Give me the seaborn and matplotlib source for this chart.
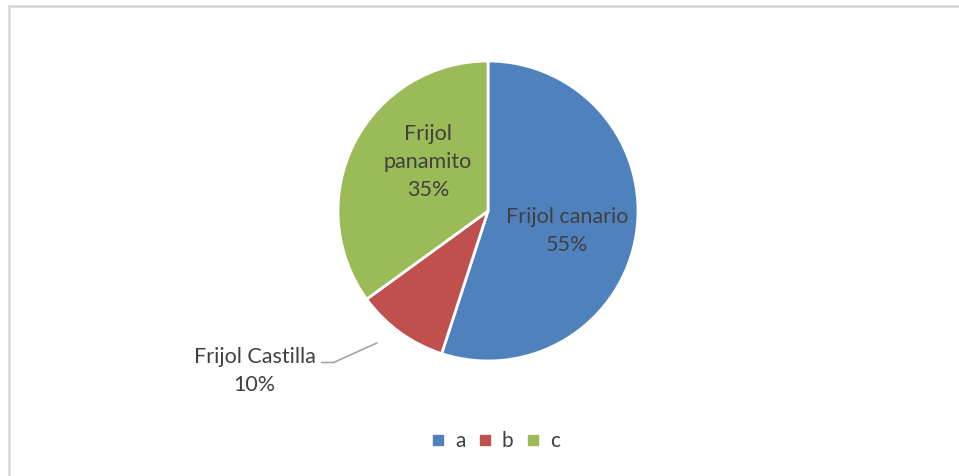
import matplotlib
matplotlib.use("Agg")
import matplotlib.pyplot as plt
import seaborn as sns
from matplotlib.patches import Rectangle
from matplotlib.lines import Line2D

# Bean varieties and their shares (%)
categories = ["Frijol canario", "Frijol Castilla", "Frijol panamito"]
shares = [55, 10, 35]
legend_labels = ["a", "b", "c"]
colors = ["#4F81BD", "#C0504D", "#9BBB59"]

sns.set_theme(style="white")
plt.rcParams["font.family"] = ["Lato", "DejaVu Sans"]
text_color = "#404040"
label_size = 15.5
spacing = 1.5

W, H = 959, 476
fig = plt.figure(figsize=(W / 100, H / 100), dpi=100)

# Light grey chart-area frame (runs off the right and bottom edges)
fig.patches.append(Rectangle((8.5 / W, -0.1), 1.2, 1 - 5.5 / H + 0.1,
                             transform=fig.transFigure, fill=False,
                             edgecolor="#D9D9D9", linewidth=2))

cx, cy, r = 488, 211, 150
ax = fig.add_axes([(cx - r) / W, (H - cy - r) / H, 2 * r / W, 2 * r / H])
wedges, _ = ax.pie(shares, colors=colors, startangle=90, counterclock=False,
                   radius=1, wedgeprops=dict(edgecolor="white", linewidth=2))
ax.set_xlim(-1, 1)
ax.set_ylim(-1, 1)
ax.set_aspect("equal")
ax.axis("off")

# Inside labels
ax.text(0.527, -0.133, f"{categories[0]}\n{shares[0]}%", ha="center", va="center",
        fontsize=label_size, color=text_color, linespacing=spacing)
ax.text(-0.40, 0.327, f"Frijol\npanamito\n{shares[2]}%", ha="center", va="center",
        fontsize=label_size, color=text_color, linespacing=spacing)

# Outside label with leader line for the small slice
ax.text(-1.557, -1.067, f"{categories[1]}\n{shares[1]}%", ha="center", va="center",
        fontsize=label_size, color=text_color, linespacing=spacing)
ax.add_line(Line2D([-1.11, -1.03, -0.74], [-1.01, -1.01, -0.88],
                   color="#A6A6A6", linewidth=1.2, clip_on=False))

# Legend at the bottom
handles = [Line2D([0], [0], marker="s", linestyle="none", markersize=7,
                  markerfacecolor=c, markeredgecolor=c) for c in colors]
fig.legend(handles, legend_labels, loc="center", ncol=3,
           bbox_to_anchor=(495 / W, 1 - 441 / H), frameon=False,
           fontsize=15, labelcolor=text_color, handletextpad=0.4,
           columnspacing=0.55, handlelength=0.8)

fig.savefig("out.png", dpi=100, facecolor="white")
